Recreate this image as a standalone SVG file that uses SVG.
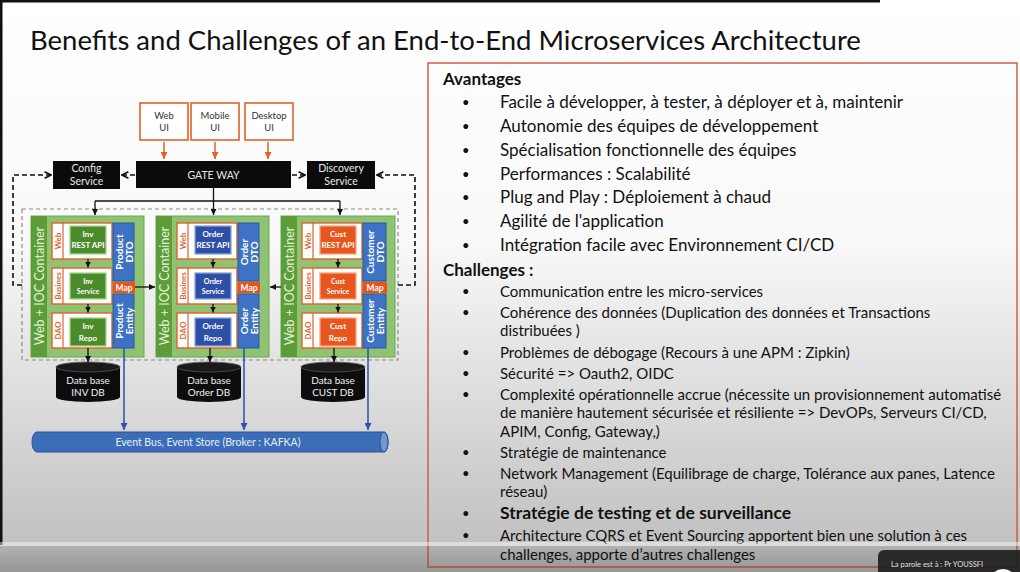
<svg xmlns="http://www.w3.org/2000/svg" width="1020" height="572" viewBox="0 0 1020 572">
<style>
  text { font-family: Lato, "Open Sans", "Liberation Sans", sans-serif; }
  .title { font-size: 27.5px; fill: #111; }
  .h { font-size: 17px; font-weight: bold; fill: #111; }
  .av { font-size: 17px; fill: #111; }
  .ch { font-size: 15px; fill: #111; }
  .chb { font-size: 17.5px; font-weight: bold; fill: #111; }
  .bul { font-size: 13px; }
  .ui { fill: #fff; stroke: #e0622a; stroke-width: 1.6; }
  .uit { font-size: 9.5px; fill: #333; text-anchor: middle; }
  .blk { fill: #0b0b0b; }
  .blkt { font-size: 10.5px; fill: #e6e6e6; text-anchor: middle; }
  .ctr { fill: #8fc373; stroke: #6aa84f; stroke-width: 1; }
  .strip { fill: #5c9d3a; }
  .ctrlbl { font-size: 12.5px; fill: #e4f4d8; text-anchor: middle; }
  .layer { fill: #fff; stroke: #e0622a; stroke-width: 1.4; }
  .div { stroke: #e0622a; stroke-width: 1.2; }
  .lbl { font-size: 8px; font-weight: bold; fill: #e0622a; text-anchor: middle; }
  .g-in { fill: #4b8b2b; stroke: #a8d48c; stroke-width: 1.3; }
  .b-in { fill: #2e4fa6; stroke: #8aa6dc; stroke-width: 1.3; }
  .o-in { fill: #e8561e; stroke: #f5a582; stroke-width: 1.3; }
  .int { font-size: 8px; font-weight: bold; fill: #fff; text-anchor: middle; }
  .ints { font-size: 7px; font-weight: bold; fill: #fff; text-anchor: middle; }
  .dto { fill: #3d72c4; stroke: #2a5aa0; stroke-width: 1; }
  .dtot { font-size: 10px; font-weight: bold; fill: #fff; text-anchor: middle; }
  .map { fill: #e8521c; }
  .mapt { font-size: 8.5px; font-weight: bold; fill: #fff; text-anchor: middle; }
  .db { fill: #0d0d0d; }
  .dbtop { fill: #1a1a1a; stroke: #555; stroke-width: 0.8; }
  .dbt { font-size: 10px; fill: #f0f0f0; text-anchor: middle; }
  .ln { stroke: #111; stroke-width: 1.3; fill: none; }
  .dash { stroke: #111; stroke-width: 1.6; fill: none; stroke-dasharray: 5 3; }
  .gdash { stroke: #8a8a8a; stroke-width: 1.2; fill: none; stroke-dasharray: 4 3; }
  .org { stroke: #e0622a; stroke-width: 1.5; fill: none; }
  .blue { stroke: #2d4fa8; stroke-width: 1.5; fill: none; }
</style>
<defs>
  <linearGradient id="bg" x1="0" y1="0" x2="0" y2="1">
    <stop offset="0" stop-color="#ffffff"/>
    <stop offset="0.42" stop-color="#f9f9f9"/>
    <stop offset="1" stop-color="#bcbcbc"/>
  </linearGradient>
  <linearGradient id="bot" x1="0" y1="0" x2="0" y2="1">
    <stop offset="0" stop-color="#000" stop-opacity="0.08"/>
    <stop offset="1" stop-color="#000" stop-opacity="0.2"/>
  </linearGradient>
  <marker id="ab" viewBox="0 0 8 8" refX="8" refY="4" markerWidth="6" markerHeight="6" markerUnits="userSpaceOnUse" orient="auto"><path d="M0,0 L8,4 L0,8 z" fill="#111"/></marker>
  <marker id="ao" viewBox="0 0 8 8" refX="8" refY="4" markerWidth="7" markerHeight="7" markerUnits="userSpaceOnUse" orient="auto"><path d="M0,0 L8,4 L0,8 z" fill="#e0622a"/></marker>
  <marker id="abl" viewBox="0 0 8 8" refX="8" refY="4" markerWidth="7" markerHeight="7" markerUnits="userSpaceOnUse" orient="auto"><path d="M0,0 L8,4 L0,8 z" fill="#2d4fa8"/></marker>
  <marker id="av" viewBox="0 0 10 10" refX="9" refY="5" markerWidth="8" markerHeight="8" markerUnits="userSpaceOnUse" orient="auto"><path d="M1,1 L9,5 L1,9" fill="none" stroke="#111" stroke-width="2"/></marker>
</defs>

<!-- slide background -->
<rect x="0" y="0" width="1020" height="572" fill="url(#bg)"/>
<rect x="0" y="0" width="880" height="2.5" fill="#111"/>
<rect x="0" y="0" width="2.5" height="545" fill="#111"/>

<text class="title" x="30" y="50">Benefits and Challenges of an End-to-End Microservices Architecture</text>

<!-- client UIs -->
<g id="web-ui"><rect class="ui" x="140" y="103" width="48" height="37"/><text class="uit" x="164" y="119">Web</text><text class="uit" x="164" y="131">UI</text></g>
<g id="mobile-ui"><rect class="ui" x="191" y="103" width="48" height="37"/><text class="uit" x="215" y="119">Mobile</text><text class="uit" x="215" y="131">UI</text></g>
<g id="desktop-ui"><rect class="ui" x="245" y="103" width="48" height="37"/><text class="uit" x="269" y="119">Desktop</text><text class="uit" x="269" y="131">UI</text></g>

<!-- infrastructure services -->
<g id="gateway"><rect class="blk" x="136" y="161" width="155" height="27"/><text class="blkt" x="213.5" y="178.5">GATE WAY</text></g>
<g id="config"><rect class="blk" x="53" y="161" width="67" height="28"/><text class="blkt" x="86.5" y="172">Config</text><text class="blkt" x="86.5" y="185">Service</text></g>
<g id="discovery"><rect class="blk" x="307" y="161" width="68" height="28"/><text class="blkt" x="341" y="172">Discovery</text><text class="blkt" x="341" y="185">Service</text></g>

<!-- boundary of the service zone -->
<rect class="gdash" x="22" y="209" width="376" height="151"/>

<!-- inventory service -->
<g id="svc-inv" transform="translate(31,0)">
  <rect class="ctr" x="0" y="216" width="113" height="141"/>
  <rect class="strip" x="0" y="216" width="16" height="141"/>
  <text class="ctrlbl" transform="translate(8,286) rotate(-90)" y="4.5">Web + IOC Container</text>
  <rect class="layer" x="21" y="223" width="60" height="36"/><line class="div" x1="32" y1="223" x2="32" y2="259"/>
  <text class="lbl" transform="translate(26.5,241) rotate(-90)" y="3">Web</text>
  <rect class="g-in" x="39" y="226" width="36" height="28"/>
  <text class="int" x="57" y="237">Inv</text><text class="int" x="57" y="248">REST API</text>
  <rect class="layer" x="21" y="268" width="60" height="36"/><line class="div" x1="32" y1="268" x2="32" y2="304"/>
  <text class="lbl" transform="translate(26.5,286) rotate(-90)" y="3">Busines</text>
  <rect class="g-in" x="39" y="273" width="36" height="26"/>
  <text class="ints" x="57" y="284">Inv</text><text class="ints" x="57" y="294">Service</text>
  <rect class="layer" x="21" y="313" width="60" height="35"/><line class="div" x1="32" y1="313" x2="32" y2="348"/>
  <text class="lbl" transform="translate(26.5,330.5) rotate(-90)" y="3">DAO</text>
  <rect class="g-in" x="39" y="318" width="36" height="28"/>
  <text class="int" x="57" y="329">Inv</text><text class="int" x="57" y="341">Repo</text>
  <rect class="dto" x="82" y="223" width="21" height="58"/>
  <text class="dtot" transform="translate(92.5,252) rotate(-90)"><tspan x="0" y="-1">Product</tspan><tspan x="0" y="9">DTO</tspan></text>
  <rect class="map" x="82" y="282" width="22" height="11"/><text class="mapt" x="93" y="291">Map</text>
  <rect class="dto" x="82" y="294" width="21" height="54"/>
  <text class="dtot" transform="translate(92.5,321) rotate(-90)"><tspan x="0" y="-1">Product</tspan><tspan x="0" y="9">Entity</tspan></text>
</g>

<!-- order service -->
<g id="svc-order" transform="translate(156,0)">
  <rect class="ctr" x="0" y="216" width="113" height="141"/>
  <rect class="strip" x="0" y="216" width="16" height="141"/>
  <text class="ctrlbl" transform="translate(8,286) rotate(-90)" y="4.5">Web + IOC Container</text>
  <rect class="layer" x="21" y="223" width="60" height="36"/><line class="div" x1="32" y1="223" x2="32" y2="259"/>
  <text class="lbl" transform="translate(26.5,241) rotate(-90)" y="3">Web</text>
  <rect class="b-in" x="39" y="226" width="36" height="28"/>
  <text class="int" x="57" y="237">Order</text><text class="int" x="57" y="248">REST API</text>
  <rect class="layer" x="21" y="268" width="60" height="36"/><line class="div" x1="32" y1="268" x2="32" y2="304"/>
  <text class="lbl" transform="translate(26.5,286) rotate(-90)" y="3">Busines</text>
  <rect class="b-in" x="39" y="273" width="36" height="26"/>
  <text class="ints" x="57" y="284">Order</text><text class="ints" x="57" y="294">Service</text>
  <rect class="layer" x="21" y="313" width="60" height="35"/><line class="div" x1="32" y1="313" x2="32" y2="348"/>
  <text class="lbl" transform="translate(26.5,330.5) rotate(-90)" y="3">DAO</text>
  <rect class="b-in" x="39" y="318" width="36" height="28"/>
  <text class="int" x="57" y="329">Order</text><text class="int" x="57" y="341">Repo</text>
  <rect class="dto" x="82" y="223" width="21" height="58"/>
  <text class="dtot" transform="translate(92.5,252) rotate(-90)"><tspan x="0" y="-1">Order</tspan><tspan x="0" y="9">DTO</tspan></text>
  <rect class="map" x="82" y="282" width="22" height="11"/><text class="mapt" x="93" y="291">Map</text>
  <rect class="dto" x="82" y="294" width="21" height="54"/>
  <text class="dtot" transform="translate(92.5,321) rotate(-90)"><tspan x="0" y="-1">Order</tspan><tspan x="0" y="9">Entity</tspan></text>
</g>

<!-- customer service -->
<g id="svc-cust" transform="translate(281,0)">
  <rect class="ctr" x="0" y="216" width="114" height="141"/>
  <rect class="strip" x="0" y="216" width="16" height="141"/>
  <text class="ctrlbl" transform="translate(8,286) rotate(-90)" y="4.5">Web + IOC Container</text>
  <rect class="layer" x="21" y="223" width="60" height="36"/><line class="div" x1="32" y1="223" x2="32" y2="259"/>
  <text class="lbl" transform="translate(26.5,241) rotate(-90)" y="3">Web</text>
  <rect class="o-in" x="39" y="226" width="36" height="28"/>
  <text class="int" x="57" y="237">Cust</text><text class="int" x="57" y="248">REST API</text>
  <rect class="layer" x="21" y="268" width="60" height="36"/><line class="div" x1="32" y1="268" x2="32" y2="304"/>
  <text class="lbl" transform="translate(26.5,286) rotate(-90)" y="3">Busines</text>
  <rect class="o-in" x="39" y="273" width="36" height="26"/>
  <text class="ints" x="57" y="284">Cust</text><text class="ints" x="57" y="294">Service</text>
  <rect class="layer" x="21" y="313" width="60" height="35"/><line class="div" x1="32" y1="313" x2="32" y2="348"/>
  <text class="lbl" transform="translate(26.5,330.5) rotate(-90)" y="3">DAO</text>
  <rect class="o-in" x="39" y="318" width="36" height="28"/>
  <text class="int" x="57" y="329">Cust</text><text class="int" x="57" y="341">Repo</text>
  <rect class="dto" x="82" y="223" width="23" height="58"/>
  <text class="dtot" transform="translate(93.5,252) rotate(-90)"><tspan x="0" y="-1">Customer</tspan><tspan x="0" y="9">DTO</tspan></text>
  <rect class="map" x="82" y="282" width="24" height="11"/><text class="mapt" x="94" y="291">Map</text>
  <rect class="dto" x="82" y="294" width="23" height="54"/>
  <text class="dtot" transform="translate(93.5,321) rotate(-90)"><tspan x="0" y="-1">Customer</tspan><tspan x="0" y="9">Entity</tspan></text>
</g>

<!-- databases -->
<g id="db-inv"><path class="db" d="M56,367 V397 A32,5 0 0 0 120,397 V367 Z"/><ellipse class="dbtop" cx="88" cy="367" rx="32" ry="5"/><text class="dbt" x="88" y="384">Data base</text><text class="dbt" x="88" y="396">INV DB</text></g>
<g id="db-order"><path class="db" d="M177,367 V397 A32,5 0 0 0 241,397 V367 Z"/><ellipse class="dbtop" cx="209" cy="367" rx="32" ry="5"/><text class="dbt" x="209" y="384">Data base</text><text class="dbt" x="209" y="396">Order DB</text></g>
<g id="db-cust"><path class="db" d="M301,367 V397 A32,5 0 0 0 365,397 V367 Z"/><ellipse class="dbtop" cx="333" cy="367" rx="32" ry="5"/><text class="dbt" x="333" y="384">Data base</text><text class="dbt" x="333" y="396">CUST DB</text></g>

<!-- event bus -->
<g id="event-bus">
  <path d="M37,432 H384 A4,10 0 0 1 384,452 H37 A5,10 0 0 1 37,432 Z" fill="#3b6db8" stroke="#2a5090" stroke-width="1"/>
  <ellipse cx="384" cy="442" rx="4" ry="10" fill="#6f98d4" stroke="#2a5090" stroke-width="1"/>
  <text x="208" y="446" font-size="10.5" fill="#e8eef8" text-anchor="middle">Event Bus, Event Store (Broker : KAFKA)</text>
</g>

<!-- connectors -->
<g id="connectors">
  <line class="org" x1="164" y1="142" x2="164" y2="159" marker-end="url(#ao)"/>
  <line class="org" x1="215" y1="142" x2="215" y2="159" marker-end="url(#ao)"/>
  <line class="org" x1="268" y1="142" x2="268" y2="159" marker-end="url(#ao)"/>

  <line class="dash" x1="135" y1="175" x2="122" y2="175" marker-end="url(#av)"/>
  <line class="dash" x1="292" y1="175" x2="305" y2="175" marker-end="url(#av)"/>
  <path class="dash" d="M22,285 H13 V175 H51" marker-end="url(#av)"/>
  <path class="dash" d="M398,285 H415 V175 H377" marker-end="url(#av)"/>

  <path class="ln" d="M213.5,188 V201"/>
  <path class="ln" d="M95,201 H340"/>
  <line class="ln" x1="95" y1="201" x2="95" y2="215" marker-end="url(#ab)"/>
  <line class="ln" x1="213.5" y1="201" x2="213.5" y2="215" marker-end="url(#ab)"/>
  <line class="ln" x1="340" y1="201" x2="340" y2="215" marker-end="url(#ab)"/>

  <line class="ln" x1="88" y1="259" x2="88" y2="267.5" marker-end="url(#ab)"/>
  <line class="ln" x1="88" y1="304" x2="88" y2="312.5" marker-end="url(#ab)"/>
  <line class="ln" x1="88" y1="348" x2="88" y2="362" marker-end="url(#ab)"/>
  <line class="ln" x1="213" y1="259" x2="213" y2="267.5" marker-end="url(#ab)"/>
  <line class="ln" x1="213" y1="304" x2="213" y2="312.5" marker-end="url(#ab)"/>
  <line class="ln" x1="210" y1="348" x2="210" y2="362" marker-end="url(#ab)"/>
  <line class="ln" x1="338" y1="259" x2="338" y2="267.5" marker-end="url(#ab)"/>
  <line class="ln" x1="338" y1="304" x2="338" y2="312.5" marker-end="url(#ab)"/>
  <line class="ln" x1="334" y1="348" x2="334" y2="362" marker-end="url(#ab)"/>

  <line class="ln" x1="135" y1="287" x2="155" y2="287" marker-end="url(#ab)"/>
  <line class="ln" x1="281" y1="287" x2="270" y2="287" marker-end="url(#ab)"/>

  <line class="blue" x1="124" y1="348" x2="124" y2="430" marker-end="url(#abl)"/>
  <line class="blue" x1="244" y1="348" x2="244" y2="430" marker-end="url(#abl)"/>
  <line class="blue" x1="368" y1="348" x2="368" y2="430" marker-end="url(#abl)"/>
</g>

<!-- benefits / challenges panel -->
<g id="panel">
  <rect x="428" y="63" width="589" height="504" fill="none" stroke="#d0603e" stroke-width="1.5"/>
  <text class="h" x="443" y="85">Avantages</text>
  <g class="av">
    <text class="bul" x="462" y="107">•</text><text x="500" y="108">Facile à développer, à tester, à déployer et à, maintenir</text>
    <text class="bul" x="462" y="131">•</text><text x="500" y="132">Autonomie des équipes de développement</text>
    <text class="bul" x="462" y="154.5">•</text><text x="500" y="155.5">Spécialisation fonctionnelle des équipes</text>
    <text class="bul" x="462" y="178.5">•</text><text x="500" y="179.5">Performances : Scalabilité</text>
    <text class="bul" x="462" y="202">•</text><text x="500" y="203">Plug and Play : Déploiement à chaud</text>
    <text class="bul" x="462" y="226">•</text><text x="500" y="227">Agilité de l'application</text>
    <text class="bul" x="462" y="250">•</text><text x="500" y="251">Intégration facile avec Environnement CI/CD</text>
  </g>
  <text class="h" x="443" y="276">Challenges :</text>
  <g class="ch">
    <text class="bul" x="462" y="296">•</text><text x="500" y="297">Communication entre les micro-services</text>
    <text class="bul" x="462" y="317">•</text><text x="500" y="318">Cohérence des données (Duplication des données et Transactions</text>
    <text x="500" y="336">distribuées )</text>
    <text class="bul" x="462" y="357">•</text><text x="500" y="358">Problèmes de débogage (Recours à une APM : Zipkin)</text>
    <text class="bul" x="462" y="378">•</text><text x="500" y="379">Sécurité =&gt; Oauth2, OIDC</text>
    <text class="bul" x="462" y="399">•</text><text x="500" y="400">Complexité opérationnelle accrue (nécessite un provisionnement automatisé</text>
    <text x="500" y="418">de manière hautement sécurisée et résiliente =&gt; DevOPs, Serveurs CI/CD,</text>
    <text x="500" y="437">APIM, Config, Gateway,)</text>
    <text class="bul" x="462" y="457">•</text><text x="500" y="458">Stratégie de maintenance</text>
    <text class="bul" x="462" y="478">•</text><text x="500" y="479">Network Management (Equilibrage de charge, Tolérance aux panes, Latence</text>
    <text x="500" y="497">réseau)</text>
    <text class="bul" x="462" y="518">•</text><text class="chb" x="500" y="519">Stratégie de testing et de surveillance</text>
    <text class="bul" x="462" y="540">•</text><text x="500" y="541">Architecture CQRS et Event Sourcing apportent bien une solution à ces</text>
    <text x="500" y="560">challenges, apporte d’autres challenges</text>
  </g>
</g>

<!-- player overlay along the bottom edge -->
<rect x="0" y="542" width="1020" height="4" fill="#fff" opacity="0.45"/>
<rect x="0" y="546" width="1020" height="26" fill="url(#bot)"/>
<g id="speaker-tag">
  <rect x="878" y="550" width="150" height="30" rx="6" fill="#1e1e1e" opacity="0.92"/>
  <text x="891" y="567" font-size="7.5" fill="#e0e0e0">La parole est à : Pr YOUSSFI</text>
  <circle cx="1003" cy="583" r="14" fill="#fff"/>
</g>
</svg>
